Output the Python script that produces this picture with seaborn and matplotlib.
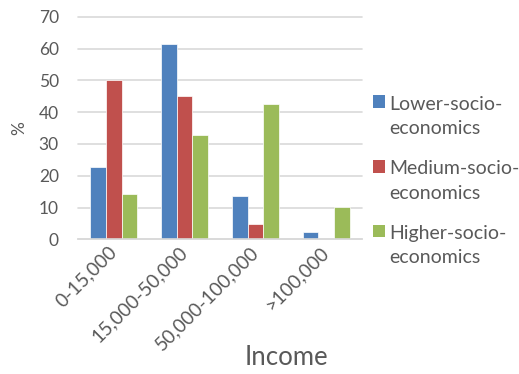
import matplotlib
matplotlib.use("Agg")
import matplotlib.pyplot as plt
import seaborn as sns
import pandas as pd
from matplotlib.legend_handler import HandlerPatch
from matplotlib.patches import Rectangle

categories = ["0-15,000", "15,000-50,000", "50,000-100,000", ">100,000"]
series_names = ["Lower-socio-\neconomics", "Medium-socio-\neconomics", "Higher-socio-\neconomics"]
lower = [22.6, 61.3, 13.6, 2.3]
medium = [50.0, 45.0, 4.9, 0.0]
higher = [14.1, 32.7, 42.7, 10.2]
colors = ["#4F81BD", "#C0504D", "#9BBB59"]

rows = []
for name, vals in zip(series_names, [lower, medium, higher]):
    for c, v in zip(categories, vals):
        rows.append({"Income": c, "Group": name, "Value": v})
df = pd.DataFrame(rows)

sns.set_theme(style="white")
plt.rcParams["font.family"] = ["Lato", "DejaVu Sans"]
txt = "#595959"

fig = plt.figure(figsize=(5.19, 3.74), dpi=100)
ax = fig.add_axes([78.3/519, 1-239.3/374, (361.7-78.3)/519, (239.3-16.7)/374])
sns.barplot(data=df, x="Income", y="Value", hue="Group", palette=colors,
            width=0.67, gap=0, ax=ax, saturation=1, edgecolor="white", linewidth=0.5)

ax.set_ylim(0, 70)
ax.set_yticks(range(0, 71, 10))
ax.yaxis.grid(True, color="#D9D9D9", linewidth=1.2)
for gl in ax.get_ygridlines():
    gl.set_clip_on(False)
ax.set_axisbelow(True)
for s in ["top", "right", "left"]:
    ax.spines[s].set_visible(False)
ax.spines["bottom"].set_color("#D9D9D9")
ax.spines["bottom"].set_linewidth(1.2)
ax.tick_params(axis="both", length=0, colors=txt)
ax.tick_params(axis="y", labelsize=12.5, pad=14)
ax.tick_params(axis="x", labelsize=13.8, pad=7)
for lab in ax.get_xticklabels():
    lab.set_rotation(45)
    lab.set_ha("right")
    lab.set_rotation_mode("anchor")
    lab.set_va("center")

ax.set_ylabel("%", color=txt, fontsize=12.5)
ax.yaxis.set_label_coords(-0.18, 0.5)
ax.set_xlabel("Income", color=txt, fontsize=18.5)
ax.xaxis.set_label_coords(0.736, -0.533)
ax.xaxis.label.set_va("center")


class TopHandler(HandlerPatch):
    def create_artists(self, legend, orig_handle, xdescent, ydescent, width, height, fontsize, trans):
        r = Rectangle((-xdescent, -ydescent + 0.77 * fontsize), width, height,
                      facecolor=orig_handle.get_facecolor(), edgecolor="none", transform=trans)
        return [r]


handles, labels = ax.get_legend_handles_labels()
ax.legend_.remove()
leg = fig.legend(handles, labels, loc="center left", bbox_to_anchor=(363/519, 1-181/374),
                 frameon=False, fontsize=14, handlelength=0.64, handleheight=0.64,
                 handletextpad=0.2, labelspacing=1.2, labelcolor=txt, borderpad=0,
                 handler_map={h: TopHandler() for h in handles})
for t in leg.get_texts():
    t.set_linespacing(1.53)

fig.savefig("out.png", dpi=100)
